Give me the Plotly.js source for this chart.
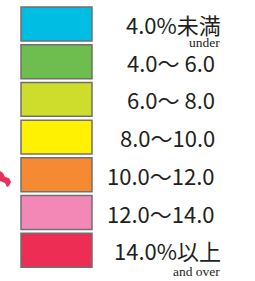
<!DOCTYPE html>
<html><head><meta charset="utf-8">
<script src="https://cdn.plot.ly/plotly-3.0.1.min.js"></script>
<style>html,body{margin:0;padding:0;background:#fff}#c{width:255px;height:281px}</style>
</head><body><div id="c"></div>
<script>
const labels = ["4.0%未満","4.0～ 6.0","6.0～ 8.0","8.0～10.0","10.0～12.0","12.0～14.0","14.0%以上"];
const sublabels = ["under","","","","","","and over"];
const colors = ["#00BDE3","#6DBE4E","#CEDC2C","#FFF100","#F68A33","#F388B6","#EE2D55"];
const values = [1,1,1,1,1,1,1];

(function(){
const W=255,H=281;
const px2x = p => -21/71 + p/71;
const rows = labels.map((_,i)=>i);
const yTop=-0.6366, yBot=yTop+H/37.7;

const trace = {
  type:'bar', orientation:'h', x:values, y:rows, base:0, width:0.9,
  marker:{color:colors, line:{color:'#707070', width:1.5}},
  hoverinfo:'skip'
};
const ann=[];
labels.forEach((t,i)=>{
  const wide = sublabels[i]!=="";
  ann.push({x:px2x(wide?222:216), y:i, xref:'x', yref:'y', text:t, showarrow:false,
    xanchor:'right', yanchor:'middle', borderpad:0,
    font:{family:'"Noto Sans CJK JP",sans-serif', size:22, color:'#231f20'}});
  if(sublabels[i]) ann.push({x:px2x(221), y:i, yshift:(i===0?-18.5:-21), xref:'x', yref:'y', text:sublabels[i], showarrow:false,
    xanchor:'right', yanchor:'middle', borderpad:0,
    font:{family:'"Liberation Serif",serif', size:13.5, color:'#231f20'}});
});
const P=(x,y)=>(x/W)+' '+(1-y/H);
Plotly.newPlot('c',[trace],{
  width:W,height:H,margin:{l:0,r:0,t:0,b:0},
  paper_bgcolor:'#fff',plot_bgcolor:'#fff',showlegend:false,
  xaxis:{range:[px2x(0),px2x(W)],visible:false,fixedrange:true},
  yaxis:{range:[yBot,yTop],visible:false,fixedrange:true},
  annotations:ann,
  shapes:[{type:'path',xref:'paper',yref:'paper',
    path:'M '+P(0,171)+' L '+P(3,173)+' L '+P(5,177)+' L '+P(9,178)+' L '+P(11,182)+' L '+P(9,186)+' L '+P(7,187)+' L '+P(5,183)+' L '+P(0,181)+' Z',
    fillcolor:'#E8305A',line:{width:0}}]
},{staticPlot:true});
})();
</script></body></html>
